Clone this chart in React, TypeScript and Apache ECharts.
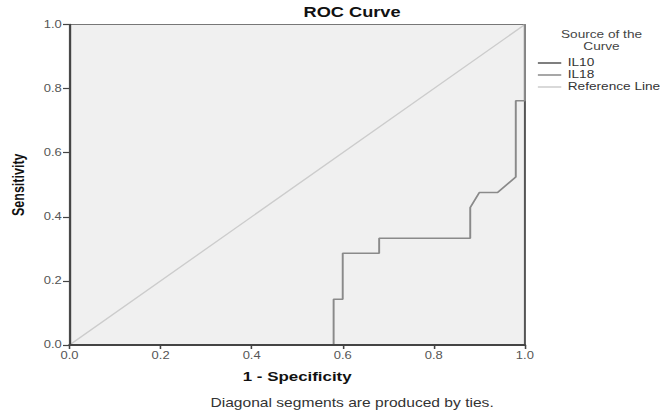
import React, { useEffect, useRef } from "react";
import * as echarts from "echarts";

// Data
const il10X = [0, 1, 1];
const il10Y = [0, 0, 1];
const il18X = [0, 0.58, 0.58, 0.6, 0.6, 0.68, 0.68, 0.88, 0.88, 0.9, 0.94, 0.98, 0.98, 1, 1];
const il18Y = [0, 0, 0.143, 0.143, 0.286, 0.286, 0.333, 0.333, 0.429, 0.476, 0.476, 0.524, 0.762, 0.762, 1];
const refX = [0, 1];
const refY = [0, 1];
const seriesNames = ["IL10", "IL18", "Reference Line"];

const W = 508;
const H = 412;
const SX = 660 / W;
const FONT = "Liberation Sans, Arial, sans-serif";

const zip = (xs: number[], ys: number[]) => xs.map((x, i) => [x, ys[i]]);

export default function App() {
  const ref = useRef<HTMLDivElement>(null);
  useEffect(() => {
    if (!ref.current) return;
    const chart = echarts.init(ref.current, undefined, { renderer: "svg" });
    chart.setOption({
      animation: false,
      backgroundColor: "#ffffff",
      textStyle: { fontFamily: FONT },
      grid: {
        left: 48.5,
        right: 104,
        top: 24.5,
        bottom: 67,
        show: true,
        backgroundColor: "#f0f0f0",
        borderColor: "#777777",
        borderWidth: 1,
      },
      xAxis: {
        type: "value",
        min: 0,
        max: 1,
        interval: 0.2,
        z: 5,
        name: "1 - Specificity",
        nameLocation: "middle",
        nameGap: 25,
        nameTextStyle: { fontFamily: FONT, fontWeight: "bold", fontSize: 13, color: "#111" },
        axisLine: { show: true, onZero: false, lineStyle: { color: "#444", width: 2 } },
        axisTick: { show: true, length: 4, lineStyle: { color: "#444", width: 1.2 } },
        axisLabel: {
          margin: 6,
          fontSize: 10,
          color: "#555",
          fontFamily: FONT,
          formatter: (v: number) => v.toFixed(1),
        },
        splitLine: { show: false },
      },
      yAxis: {
        type: "value",
        min: 0,
        max: 1,
        interval: 0.2,
        z: 5,
        name: "Sensitivity",
        nameLocation: "middle",
        nameGap: 32.5,
        nameTextStyle: { fontFamily: FONT, fontWeight: "bold", fontSize: 12.5, color: "#111" },
        axisLine: { show: true, onZero: false, lineStyle: { color: "#444", width: 1.6 } },
        axisTick: { show: true, length: 5, lineStyle: { color: "#444", width: 1.2 } },
        axisLabel: {
          margin: 6,
          fontSize: 10,
          color: "#555",
          fontFamily: FONT,
          formatter: (v: number) => v.toFixed(1),
        },
        splitLine: { show: false },
      },
      legend: {
        orient: "vertical",
        left: 414,
        top: 57,
        padding: 0,
        itemGap: 0,
        itemWidth: 18,
        itemHeight: 1.5,
        icon: "rect",
        data: seriesNames,
        textStyle: { fontFamily: FONT, fontSize: 10.5, color: "#333", lineHeight: 12 },
      },
      graphic: [
        {
          type: "text",
          x: 271,
          y: 12,
          style: {
            text: "ROC Curve",
            font: `bold 14px ${FONT}`,
            fill: "#111",
            textAlign: "center",
            textVerticalAlign: "middle",
            align: "center",
            verticalAlign: "middle",
          },
        },
        {
          type: "text",
          x: 463,
          y: 41,
          style: {
            text: "Source of the\nCurve",
            font: `10.5px ${FONT}`,
            lineHeight: 12,
            fill: "#444",
            textAlign: "center",
            textVerticalAlign: "middle",
            align: "center",
            verticalAlign: "middle",
          },
        },
        {
          type: "text",
          x: 271,
          y: 403,
          style: {
            text: "Diagonal segments are produced by ties.",
            font: `12px ${FONT}`,
            fill: "#333",
            textAlign: "center",
            textVerticalAlign: "middle",
            align: "center",
            verticalAlign: "middle",
          },
        },
      ],
      color: ["#555555", "#8a8a8a", "#cccccc"],
      series: [
        {
          name: seriesNames[0],
          type: "line",
          data: zip(il10X, il10Y),
          symbol: "none",
          lineStyle: { color: "#555555", width: 1.5 },
          itemStyle: { color: "#555555" },
          z: 3,
        },
        {
          name: seriesNames[1],
          type: "line",
          data: zip(il18X, il18Y),
          symbol: "none",
          lineStyle: { color: "#8a8a8a", width: 1.5 },
          itemStyle: { color: "#8a8a8a" },
          z: 4,
        },
        {
          name: seriesNames[2],
          type: "line",
          data: zip(refX, refY),
          symbol: "none",
          lineStyle: { color: "#cccccc", width: 1.2 },
          itemStyle: { color: "#cccccc" },
          z: 2,
        },
      ],
    });
    return () => chart.dispose();
  }, []);
  return (
    <div
      ref={ref}
      style={{
        position: "absolute",
        left: 0,
        top: 0,
        width: W,
        height: H,
        transform: `scaleX(${SX})`,
        transformOrigin: "0 0",
      }}
    />
  );
}
